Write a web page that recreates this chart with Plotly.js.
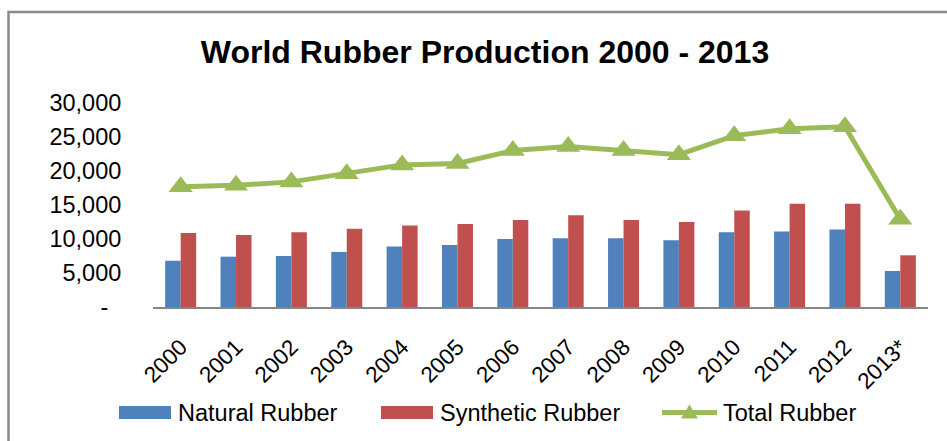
<!DOCTYPE html>
<html>
<head>
<meta charset="utf-8">
<script src="https://cdn.plot.ly/plotly-3.0.1.min.js"></script>
<style>
  html, body { margin: 0; padding: 0; background: #ffffff; }
  #chart { width: 947px; height: 441px; }
</style>
</head>
<body>
<div id="chart"></div>
<script>
// World rubber production by type, thousand tonnes
const years = ["2000", "2001", "2002", "2003", "2004", "2005", "2006",
               "2007", "2008", "2009", "2010", "2011", "2012", "2013*"];
const naturalRubber   = [6800, 7400, 7500, 8100, 8900, 9100, 10000,
                         10100, 10100, 9800, 11000, 11100, 11400, 5300];
const syntheticRubber = [10900, 10600, 11000, 11500, 12000, 12200, 12800,
                         13500, 12800, 12500, 14200, 15200, 15200, 7600];
const totalRubber     = [17700, 17900, 18400, 19600, 20900, 21100, 23000,
                         23600, 23000, 22400, 25200, 26200, 26500, 12900];

const yTickVals = [0, 5000, 10000, 15000, 20000, 25000, 30000];
const yTickText = ["-\u00a0\u00a0", "5,000", "10,000", "15,000", "20,000", "25,000", "30,000"];

const seriesNames = ["Natural Rubber", "Synthetic Rubber", "Total Rubber"];
const colors = { natural: "#4F81BD", synthetic: "#C0504D", total: "#9BBB59" };

const FONT = '"Liberation Sans", Arial, Helvetica, sans-serif';

// Page geometry (pixels)
const W = 947, H = 441;
const M = { l: 153, r: 19, t: 103, b: 134 };
const PW = W - M.l - M.r, PH = H - M.t - M.b;
const px = x => (x - M.l) / PW;          // pixel x -> paper x
const py = y => (H - M.b - y) / PH;       // pixel y -> paper y

const traces = [
  {
    type: "bar", name: seriesNames[0], x: years, y: naturalRubber,
    marker: { color: colors.natural }, showlegend: false, hoverinfo: "x+y+name"
  },
  {
    type: "bar", name: seriesNames[1], x: years, y: syntheticRubber,
    marker: { color: colors.synthetic }, showlegend: false, hoverinfo: "x+y+name"
  },
  {
    type: "scatter", mode: "lines+markers", name: seriesNames[2], x: years, y: totalRubber,
    line: { color: colors.total, width: 5 },
    marker: { symbol: "triangle-up", size: 21, color: colors.total },
    cliponaxis: false, showlegend: false
  }
];

// Legend row drawn below the axis
const legendY = 412.5;
function triPath(cx, cy, w, h) {
  const p = (x, y) => px(x).toFixed(5) + "," + py(y).toFixed(5);
  return "M" + p(cx - w / 2, cy + h / 2) + " L" + p(cx + w / 2, cy + h / 2) +
         " L" + p(cx, cy - h / 2) + " Z";
}

const shapes = [
  // outer chart frame
  { type: "rect", xref: "paper", yref: "paper",
    x0: px(8.5), x1: px(W + 20), y0: py(H + 20), y1: py(12),
    line: { color: "#898989", width: 2.5 }, fillcolor: "rgba(0,0,0,0)", layer: "below" },
  // legend keys
  { type: "rect", xref: "paper", yref: "paper",
    x0: px(119), x1: px(171), y0: py(419), y1: py(406),
    line: { width: 0 }, fillcolor: colors.natural },
  { type: "rect", xref: "paper", yref: "paper",
    x0: px(381), x1: px(433), y0: py(419), y1: py(406),
    line: { width: 0 }, fillcolor: colors.synthetic },
  { type: "line", xref: "paper", yref: "paper",
    x0: px(662), x1: px(717), y0: py(legendY), y1: py(legendY),
    line: { color: colors.total, width: 5 } },
  { type: "path", xref: "paper", yref: "paper",
    path: triPath(689.5, legendY - 1, 17, 14),
    line: { width: 0 }, fillcolor: colors.total }
];

const legendFont = { family: FONT, size: 23.5, color: "#000000" };
const annotations = [
  { text: seriesNames[0], x: px(176), xanchor: "left" },
  { text: seriesNames[1], x: px(438), xanchor: "left" },
  { text: seriesNames[2], x: px(721), xanchor: "left" }
].map(a => Object.assign({
  xref: "paper", yref: "paper", y: py(legendY), yanchor: "middle",
  showarrow: false, font: legendFont
}, a));

const layout = {
  width: W, height: H,
  margin: M,
  paper_bgcolor: "#ffffff", plot_bgcolor: "#ffffff",
  font: { family: FONT, color: "#000000" },
  title: {
    text: "World Rubber Production 2000 - 2013",
    font: { family: FONT, size: 32, weight: 700, color: "#000000" },
    x: 485 / W, xanchor: "center", xref: "container",
    y: 1 - 52 / H, yanchor: "middle", yref: "container"
  },
  barmode: "group", bargap: 0.44, bargroupgap: 0,
  showlegend: false,
  xaxis: {
    type: "category", tickangle: -45, range: [-0.5, years.length - 0.5],
    tickfont: { family: FONT, size: 22.5, color: "#000000" },
    showline: true, linecolor: "#868686", linewidth: 2,
    ticks: "outside", ticklen: 16, tickcolor: "rgba(0,0,0,0)",
    showgrid: false, zeroline: false, fixedrange: true
  },
  yaxis: {
    range: [0, 30000], tickvals: yTickVals, ticktext: yTickText,
    tickfont: { family: FONT, size: 23.5, color: "#000000" },
    ticks: "outside", ticklen: 26, tickcolor: "rgba(0,0,0,0)",
    showline: false, showgrid: false, zeroline: false, fixedrange: true
  },
  shapes: shapes,
  annotations: annotations
};

Plotly.newPlot("chart", traces, layout, { displayModeBar: false, staticPlot: true });
</script>
</body>
</html>
